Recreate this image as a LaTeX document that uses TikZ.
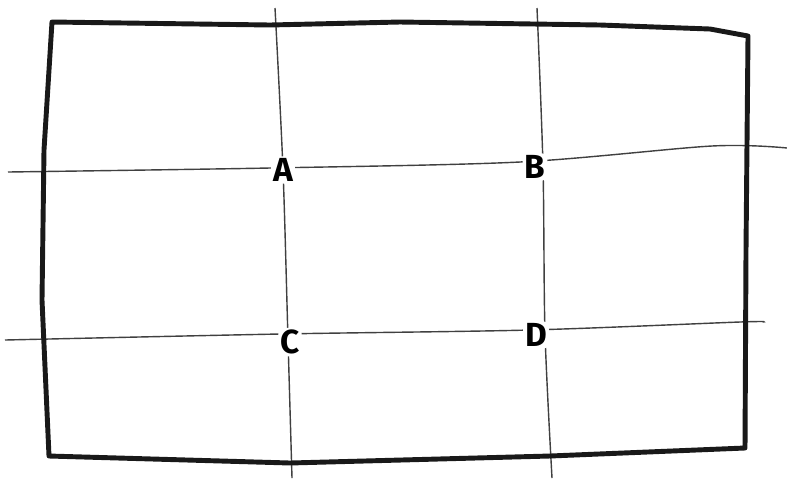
\documentclass[tikz,border=0pt]{standalone}
\usepackage{fontspec}
\newfontfamily\sketchfont{Fira Sans}
\usetikzlibrary{positioning}
\tikzset{
  frame/.style={line width=2.8pt,black!90,line join=round,line cap=round},
  third/.style={line width=0.8pt,black!75},
  ptlbl/.style={font=\sketchfont\bfseries\fontsize{19}{19}\selectfont,fill=white,
    inner sep=1.2pt,rounded corners=3pt},
}
\begin{document}
\begin{tikzpicture}[x=0.02cm,y=-0.02cm]
  \useasboundingbox (0,0) rectangle (787,478);
  \fill[white] (0,0) rectangle (787,478);
  % thirds lines (hand drawn, slightly off)
  \draw[third] plot[smooth] coordinates {(275,8) (283,170) (288,340) (292,478)};
  \draw[third] plot[smooth] coordinates {(537,8) (543,167) (545,333) (552,478)};
  \draw[third] plot[smooth] coordinates {(8,172) (270,168) (520,162) (712,146) (787,148)};
  \draw[third] plot[smooth] coordinates {(5,340) (280,334) (530,330) (740,322) (763,322)};
  % frame
  \draw[frame] (52,22) -- (270,25) -- (400,22) -- (600,25) -- (710,29) -- (748,36)
    -- (746,250) -- (745,448) -- (550,456) -- (290,463) -- (49,456)
    -- (42,300) -- (44,150) -- cycle;
  % intersection labels
  \node[ptlbl] (ptA) at (283,170) {A};
  \node[ptlbl] (ptB) at (535,167) {B};
  \node[ptlbl] (ptC) at (290,342) {C};
  \node[ptlbl] (ptD) at (536,335) {D};
\end{tikzpicture}
\end{document}
